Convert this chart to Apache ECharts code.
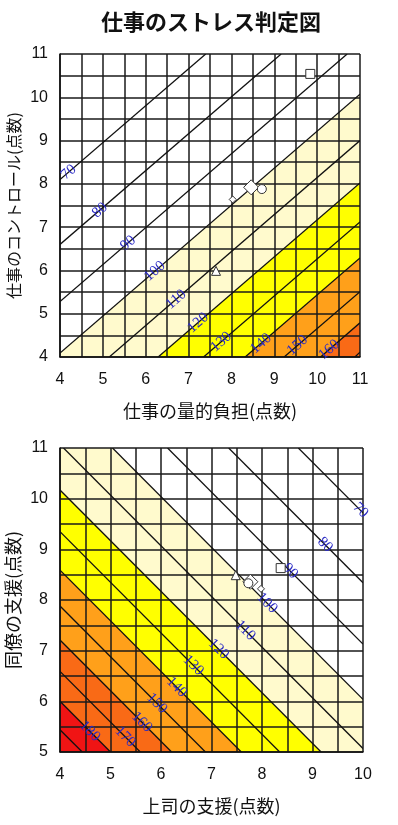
<!DOCTYPE html>
<html><head><meta charset="utf-8">
<script src="https://cdn.jsdelivr.net/npm/echarts@6/dist/echarts.min.js"></script>
<style>html,body{margin:0;padding:0;background:#fff}#c{width:398px;height:825px}</style>
</head><body><div id="c"></div>
<script>
// ===== data =====
const titleText = '仕事のストレス判定図';
const topXName = '仕事の量的負担(点数)';
const topYName = '仕事のコントロール(点数)';
const bottomXName = '上司の支援(点数)';
const bottomYName = '同僚の支援(点数)';

// contour levels and their endpoints [x1, y1, x2, y2] (量的負担, コントロール)
const topLevels = [70, 80, 90, 100, 110, 120, 130, 140, 150, 160, 170];
const topLineEnds = [
  [4, 8.10, 7.40, 11],
  [4, 6.60, 9.16, 11],
  [4, 5.28, 10.70, 11],
  [4, 4.09, 11, 10.07],
  [5.15, 4, 11, 9.00],
  [6.29, 4, 11, 8.02],
  [7.35, 4, 11, 7.12],
  [8.32, 4, 11, 6.29],
  [9.23, 4, 11, 5.51],
  [10.08, 4, 11, 4.79],
  [10.88, 4, 11, 4.11]
];
const topLabelText = [70, 80, 90, 100, 110, 120, 130, 140, 150, 160];
const topLabelPos = [
  [4.20, 8.27], [4.93, 7.39], [5.59, 6.63], [6.21, 5.98], [6.71, 5.33],
  [7.22, 4.79], [7.76, 4.35], [8.69, 4.31], [9.54, 4.27], [10.28, 4.17]
];
const topFillLevels = [100, 120, 140, 160];

// (上司の支援, 同僚の支援)
const bottomLevels = [70, 80, 90, 100, 110, 120, 130, 140, 150, 160, 170, 180, 190];
const bottomLineEnds = [
  [8.72, 11, 10, 9.72],
  [7.34, 11, 10, 8.34],
  [6.13, 11, 10, 7.13],
  [5.04, 11, 10, 6.04],
  [4.07, 11, 10, 5.07],
  [4, 10.17, 9.17, 5],
  [4, 9.35, 8.35, 5],
  [4, 8.59, 7.59, 5],
  [4, 7.88, 6.88, 5],
  [4, 7.21, 6.21, 5],
  [4, 6.59, 5.59, 5],
  [4, 6.00, 5.00, 5],
  [4, 5.44, 4.44, 5]
];
const bottomLabelText = [70, 80, 90, 100, 110, 120, 130, 140, 150, 160, 170, 180];
const bottomLabelPos = [
  [9.95, 9.77], [9.25, 9.09], [8.56, 8.57], [8.10, 7.94], [7.67, 7.40], [7.14, 7.03],
  [6.64, 6.71], [6.31, 6.28], [5.92, 5.96], [5.62, 5.59], [5.29, 5.30], [4.59, 5.41]
];
const bottomFillLevels = [100, 120, 140, 160, 180];

// plotted groups (same marker in both charts)
const groupSymbols = ['rect', 'diamond', 'circle', 'diamond', 'triangle'];
const quantDemand = [9.84, 8.46, 8.71, 8.03, 7.64];
const jobControl  = [10.54, 7.92, 7.88, 7.64, 5.99];
const bossSupport = [8.37, 7.77, 7.73, 7.98, 7.48];
const peerSupport = [8.63, 8.36, 8.33, 8.22, 8.49];

// ===== styles =====
const fillColors = {100: '#FFFACD', 120: '#FFFF00', 140: '#FFA01A', 160: '#F96A16', 180: '#F01414'};
const groupSizes = [9, 15, 9, 7, 9];
const CJK = '"Noto Sans CJK JP", sans-serif';
const NUM = '"Liberation Sans", Arial, sans-serif';

const chart = echarts.init(document.getElementById('c'), null, {renderer: 'canvas'});

function axisCfg(gridIndex, min, max, name, isY, nameSize) {
  return {
    gridIndex, type: 'value', min, max, interval: 0.5, z: 3,
    axisLine: {show: true, onZero: false, lineStyle: {color: '#111', width: 1.5}},
    axisTick: {show: false},
    splitLine: {show: true, lineStyle: {color: '#1a1a1a', width: 1.5}},
    axisLabel: {
      formatter: v => Number.isInteger(v) ? String(v) : '',
      fontSize: 16, color: '#111', fontFamily: NUM, margin: isY ? 12 : 15
    },
    name, nameLocation: 'middle', nameGap: isY ? 38 : 45, nameMoveOverlap: false,
    nameRotate: isY ? 90 : 0,
    nameTextStyle: {fontSize: nameSize, color: '#111', fontFamily: CJK}
  };
}

function fillSeries(idx, levels, ends, fillLevels, corners) {
  return {
    type: 'custom', xAxisIndex: idx, yAxisIndex: idx, z: 1, clip: true, silent: true,
    encode: {x: [0, 2], y: [1, 3]},
    data: fillLevels.map(l => { const e = ends[levels.indexOf(l)]; return [e[0], e[1], e[2], e[3], l]; }),
    renderItem: (params, api) => {
      const pts = [api.coord([api.value(0), api.value(1)]), api.coord([api.value(2), api.value(3)])]
        .concat(corners.map(c => api.coord(c)));
      return {type: 'polygon', shape: {points: pts}, style: {fill: fillColors[api.value(4)]}};
    }
  };
}

function lineSeries(idx, ends) {
  return {
    type: 'custom', xAxisIndex: idx, yAxisIndex: idx, z: 4, clip: true, silent: true,
    encode: {x: [0, 2], y: [1, 3]},
    data: ends,
    renderItem: (params, api) => {
      const a = api.coord([api.value(0), api.value(1)]);
      const b = api.coord([api.value(2), api.value(3)]);
      return {type: 'line', shape: {x1: a[0], y1: a[1], x2: b[0], y2: b[1]},
        style: {stroke: '#111', lineWidth: 1.3}};
    }
  };
}

function labelSeries(idx, levels, ends, texts, pos) {
  return {
    type: 'custom', xAxisIndex: idx, yAxisIndex: idx, z: 5, silent: true,
    encode: {x: 0, y: 1},
    data: texts.map((t, i) => { const e = ends[levels.indexOf(t)]; return [pos[i][0], pos[i][1], t, e[0], e[1], e[2], e[3]]; }),
    renderItem: (params, api) => {
      const p = api.coord([api.value(0), api.value(1)]);
      const a = api.coord([api.value(3), api.value(4)]);
      const b = api.coord([api.value(5), api.value(6)]);
      const ang = -Math.atan2(b[1] - a[1], b[0] - a[0]);
      return {type: 'text', x: p[0], y: p[1], rotation: ang,
        style: {text: String(api.value(2)), fill: '#2a2ac4',
          font: '15px "Liberation Serif", serif', align: 'center', verticalAlign: 'middle'}};
    }
  };
}

function markerSeries(idx, xs, ys) {
  return {
    type: 'scatter', xAxisIndex: idx, yAxisIndex: idx, z: 6, silent: true,
    data: xs.map((x, i) => ({value: [x, ys[i]], symbol: groupSymbols[i], symbolSize: groupSizes[i]})),
    itemStyle: {color: '#fff', borderColor: '#333', borderWidth: 1, opacity: 1}
  };
}

chart.setOption({
  animation: false,
  backgroundColor: '#fff',
  title: {text: titleText, left: 96, top: 6,
    textStyle: {fontSize: 22, fontWeight: 'bold', color: '#111', fontFamily: CJK}},
  grid: [
    {left: 60, top: 54, width: 300, height: 303, containLabel: false, outerBoundsMode: 'none'},
    {left: 60, top: 448, width: 303, height: 304, containLabel: false, outerBoundsMode: 'none'}
  ],
  xAxis: [axisCfg(0, 4, 11, topXName, false, 18), axisCfg(1, 4, 10, bottomXName, false, 18)],
  yAxis: [axisCfg(0, 4, 11, topYName, true, 16), axisCfg(1, 5, 11, bottomYName, true, 18)],
  series: [
    fillSeries(0, topLevels, topLineEnds, topFillLevels, [[11, 4], [4, 4]]),
    lineSeries(0, topLineEnds),
    labelSeries(0, topLevels, topLineEnds, topLabelText, topLabelPos),
    markerSeries(0, quantDemand, jobControl),
    fillSeries(1, bottomLevels, bottomLineEnds, bottomFillLevels, [[10, 5], [4, 5], [4, 11]]),
    lineSeries(1, bottomLineEnds),
    labelSeries(1, bottomLevels, bottomLineEnds, bottomLabelText, bottomLabelPos),
    markerSeries(1, bossSupport, peerSupport)
  ]
});
</script></body></html>
